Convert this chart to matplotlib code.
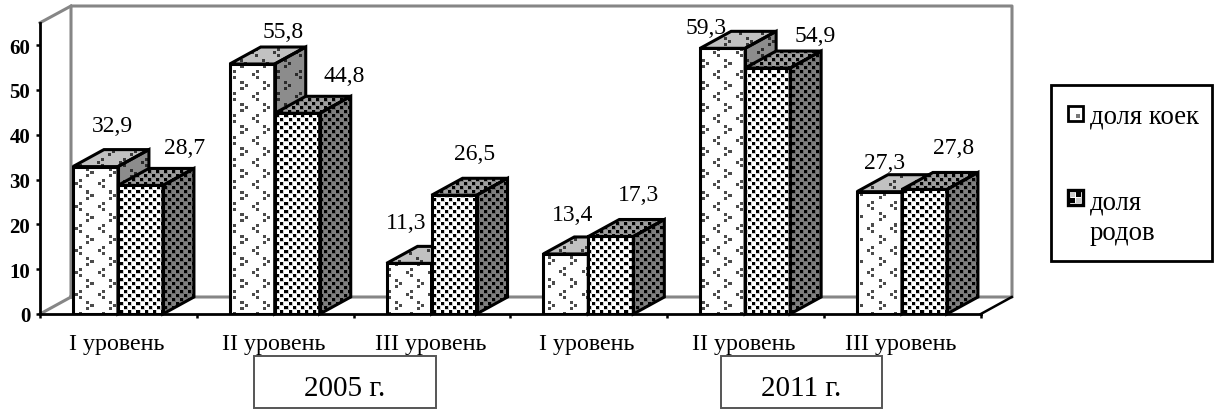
import numpy as np
import matplotlib
matplotlib.use('Agg')
import matplotlib.pyplot as plt
from matplotlib.patches import Polygon, Rectangle

plt.rcParams['font.family'] = ['Liberation Serif', 'DejaVu Serif']

categories = ['I уровень', 'II уровень', 'III уровень', 'I уровень', 'II уровень', 'III уровень']
beds = [32.9, 55.8, 11.3, 13.4, 59.3, 27.3]
births = [28.7, 44.8, 26.5, 17.3, 54.9, 27.8]
bed_labels = ['32,9', '55,8', '11,3', '13,4', '59,3', '27,3']
birth_labels = ['28,7', '44,8', '26,5', '17,3', '54,9', '27,8']
# label shift from the bar's front top, in pixels
bed_shift = [(17, 41), (31, 33), (-3, 41), (7, 39), (-17, 21), (5, 29)]
birth_shift = [(44, 38), (47, 38), (21, 42), (28, 42), (48, 33), (29, 42)]
y_ticks = [0, 10, 20, 30, 40, 50, 60]

W, H = 1217, 410
PX = 0.72
AX_W, AX_H = 972, 308
GAP = 0.21
BAR_W = 0.287
DX = 31 / 156.8
DY = 17 / 4.48
X_MAX = AX_W / 156.8
Y_MAX = AX_H / 4.48
WALL = '#868686'


def chevron_tile():
    tile = np.ones((22, 22))
    for r0, c0, shape in [(20, 13, [(0, 4), (3, 0), (6, 4)]), (9, 2, [(0, 0), (3, 4), (6, 0)])]:
        for r, c in shape:
            for a in range(3):
                for b in range(3):
                    tile[(r0 + r + a) % 22, (c0 + c + b) % 22] = 0.3
    return tile


def dots_tile():
    tile = np.ones((8, 8))
    tile[0:4, 0:4] = 0.8
    tile[4:8, 4:8] = 0.8
    tile[0:3, 0:3] = 0
    tile[4:7, 4:7] = 0
    return tile


def texture(tile, shade):
    reps = (AX_H // tile.shape[0] + 1, AX_W // tile.shape[1] + 1)
    big = np.tile(tile, reps)[:AX_H, :AX_W] * shade
    return np.dstack([big, big, big])


def fill_face(ax, patch, tex, z):
    im = ax.imshow(tex, extent=(0, X_MAX, 0, Y_MAX), origin='upper', aspect='auto',
                   interpolation='nearest', vmin=0, vmax=1, zorder=z)
    im.set_clip_path(patch)


def draw_bars(ax, lefts, values, tile, top_shade, side_shade, z):
    bars = ax.bar(lefts, values, BAR_W, align='edge', facecolor='none',
                  edgecolor='black', linewidth=2.2, zorder=z + 0.5)
    tex_front = texture(tile, 1.0)
    tex_top = texture(tile, top_shade)
    tex_side = texture(tile, side_shade)
    for n, (bar, x0, v) in enumerate(zip(bars, lefts, values)):
        x1 = x0 + BAR_W
        zz = z + n
        bar.set_zorder(zz + 0.5)
        side = Polygon([(x1, 0), (x1 + DX, DY), (x1 + DX, v + DY), (x1, v)], closed=True,
                       facecolor='none', edgecolor='black', linewidth=2.2, zorder=zz + 0.4, clip_on=False)
        top = Polygon([(x0, v), (x0 + DX, v + DY), (x1 + DX, v + DY), (x1, v)], closed=True,
                      facecolor='none', edgecolor='black', linewidth=2.2, zorder=zz + 0.4, clip_on=False)
        ax.add_patch(side)
        ax.add_patch(top)
        fill_face(ax, side, tex_side, zz + 0.1)
        fill_face(ax, top, tex_top, zz + 0.1)
        fill_face(ax, bar, tex_front, zz + 0.1)


fig = plt.figure(figsize=(W / 100, H / 100), dpi=100)
ax = fig.add_axes([40 / W, 1 - 315 / H, AX_W / W, AX_H / H])
ax.patch.set_visible(False)

# back wall and floor
ax.plot([0, DX, DX, X_MAX, X_MAX, DX], [0, DY, Y_MAX, Y_MAX, DY, DY], color=WALL, lw=2.2,
        clip_on=False, zorder=1)
ax.plot([0, DX], [65, Y_MAX], color=WALL, lw=2.2, clip_on=False, zorder=1)
ax.plot([6, 6 + DX], [0, DY], color='black', lw=1.8, clip_on=False, zorder=1)

pos = np.arange(len(categories))
left1 = pos + GAP
left2 = left1 + BAR_W
# bars in a group overlap, so z rises group by group
for i in pos:
    draw_bars(ax, [left1[i]], [beds[i]], chevron_tile(), 0.76, 0.55, 10 + 4 * i)
    draw_bars(ax, [left2[i]], [births[i]], dots_tile(), 0.62, 0.5, 12 + 4 * i)
    ax.annotate(bed_labels[i], (left1[i] + BAR_W / 2, beds[i]), xytext=(bed_shift[i][0] * PX, bed_shift[i][1] * PX),
                textcoords='offset points', ha='center', va='center', fontsize=17, zorder=60)
    ax.annotate(birth_labels[i], (left2[i] + BAR_W / 2, births[i]), xytext=(birth_shift[i][0] * PX, birth_shift[i][1] * PX),
                textcoords='offset points', ha='center', va='center', fontsize=17, zorder=60)

ax.set_xlim(0, X_MAX)
ax.set_ylim(0, Y_MAX)
for s in ['top', 'right']:
    ax.spines[s].set_visible(False)
ax.spines['left'].set_bounds(0, 65)
ax.spines['bottom'].set_bounds(0, 6)
for s in ['left', 'bottom']:
    ax.spines[s].set_linewidth(2)
    ax.spines[s].set_zorder(50)

ax.set_yticks(y_ticks)
ax.set_yticklabels([str(t) for t in y_ticks], fontsize=15, fontweight='bold')
ax.tick_params(axis='y', length=3, width=1.8, pad=4)
ax.set_xticks(range(7))
ax.set_xticklabels([])
ax.tick_params(axis='x', which='major', length=3, width=1.8)
ax.set_xticks(pos + 0.49, categories, minor=True, fontsize=17.3)
ax.tick_params(axis='x', which='minor', length=0, pad=14)

# overlay in pixel coordinates for the boxes
ov = fig.add_axes([0, 0, 1, 1], zorder=100)
ov.set_xlim(0, W)
ov.set_ylim(H, 0)
ov.axis('off')

for x0, x1, name in [(254, 436, '2005 г.'), (721, 882, '2011 г.')]:
    ov.add_patch(Rectangle((x0, 357), x1 - x0, 52, fc='white', ec='#555555', lw=1.4))
    ov.text((x0 + x1) / 2, 389, name, ha='center', va='center', fontsize=21)

ov.add_patch(Rectangle((1051, 86), 161, 176, fc='white', ec='black', lw=2))
ov.add_patch(Rectangle((1068, 107), 15, 15, fc='white', ec='black', lw=2))
ov.add_patch(Rectangle((1076, 115), 4, 4, fc='#777777', ec='none'))
ov.add_patch(Rectangle((1068, 191), 15, 15, fc='white', ec='black', lw=2.4))
for px, py in [(1070, 193), (1076, 193), (1070, 199), (1076, 199)]:
    ov.add_patch(Rectangle((px, py), 5, 5, fc='black' if (px, py) in [(1076, 193), (1070, 199)] else '#cccccc', ec='none'))
ov.text(1090, 117, 'доля коек', ha='left', va='center', fontsize=19.3)
ov.text(1090, 203, 'доля', ha='left', va='center', fontsize=19.3)
ov.text(1090, 234, 'родов', ha='left', va='center', fontsize=19.3)

fig.savefig('out.png', dpi=100)
